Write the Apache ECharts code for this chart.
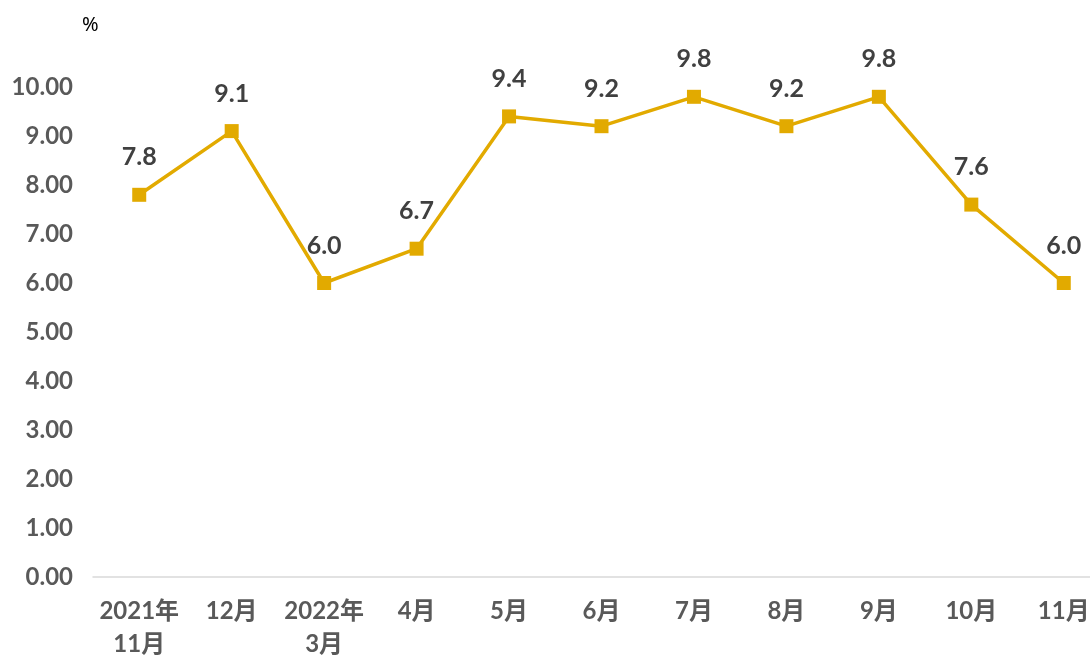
<!DOCTYPE html>
<html><head><meta charset="utf-8">
<script src="https://cdn.jsdelivr.net/npm/echarts@6/dist/echarts.min.js"></script>
<style>html,body{margin:0;padding:0;background:#fff}#c{width:1090px;height:659px}</style>
</head><body><div id="c"></div>
<script>
const categories = ['2021年\n11月','12月','2022年\n3月','4月','5月','6月','7月','8月','9月','10月','11月'];
const values = [7.8, 9.1, 6.0, 6.7, 9.4, 9.2, 9.8, 9.2, 9.8, 7.6, 6.0];
const unitLabel = '%';
const font = 'Lato, "Noto Sans CJK SC", sans-serif';
const chart = echarts.init(document.getElementById('c'));
chart.setOption({
  animation: false,
  graphic: [{type:'text', left: 82, top: 15, style:{text: unitLabel, font: '20px "Noto Sans", sans-serif', fill:'#000'}}],
  grid: {left: 93, top: 87, right: -20, bottom: 82, containLabel: false, outerBoundsMode: 'none'},
  xAxis: {
    type: 'category', data: categories, boundaryGap: true,
    axisLine: {show: true, lineStyle: {color: '#d9d9d9', width: 1.5}},
    axisTick: {show: false},
    axisLabel: {interval: 0, margin: 18, color: '#595959', fontSize: 24, fontWeight: 'bold', fontFamily: font, lineHeight: 33}
  },
  yAxis: {
    type: 'value', min: 0, max: 10, interval: 1,
    axisLine: {show: false}, axisTick: {show: false}, splitLine: {show: false},
    axisLabel: {margin: 20, color: '#595959', fontSize: 24, fontWeight: 'bold', fontFamily: font, formatter: v => v.toFixed(2)}
  },
  series: [{
    type: 'line', data: values,
    lineStyle: {color: '#E2AA00', width: 3.5},
    itemStyle: {color: '#E2AA00'},
    symbol: 'rect', symbolSize: 14,
    label: {show: true, position: 'top', distance: 18, color: '#404040', fontSize: 25, fontWeight: 'bold', fontFamily: font, formatter: p => p.value.toFixed(1)}
  }]
});
</script></body></html>
